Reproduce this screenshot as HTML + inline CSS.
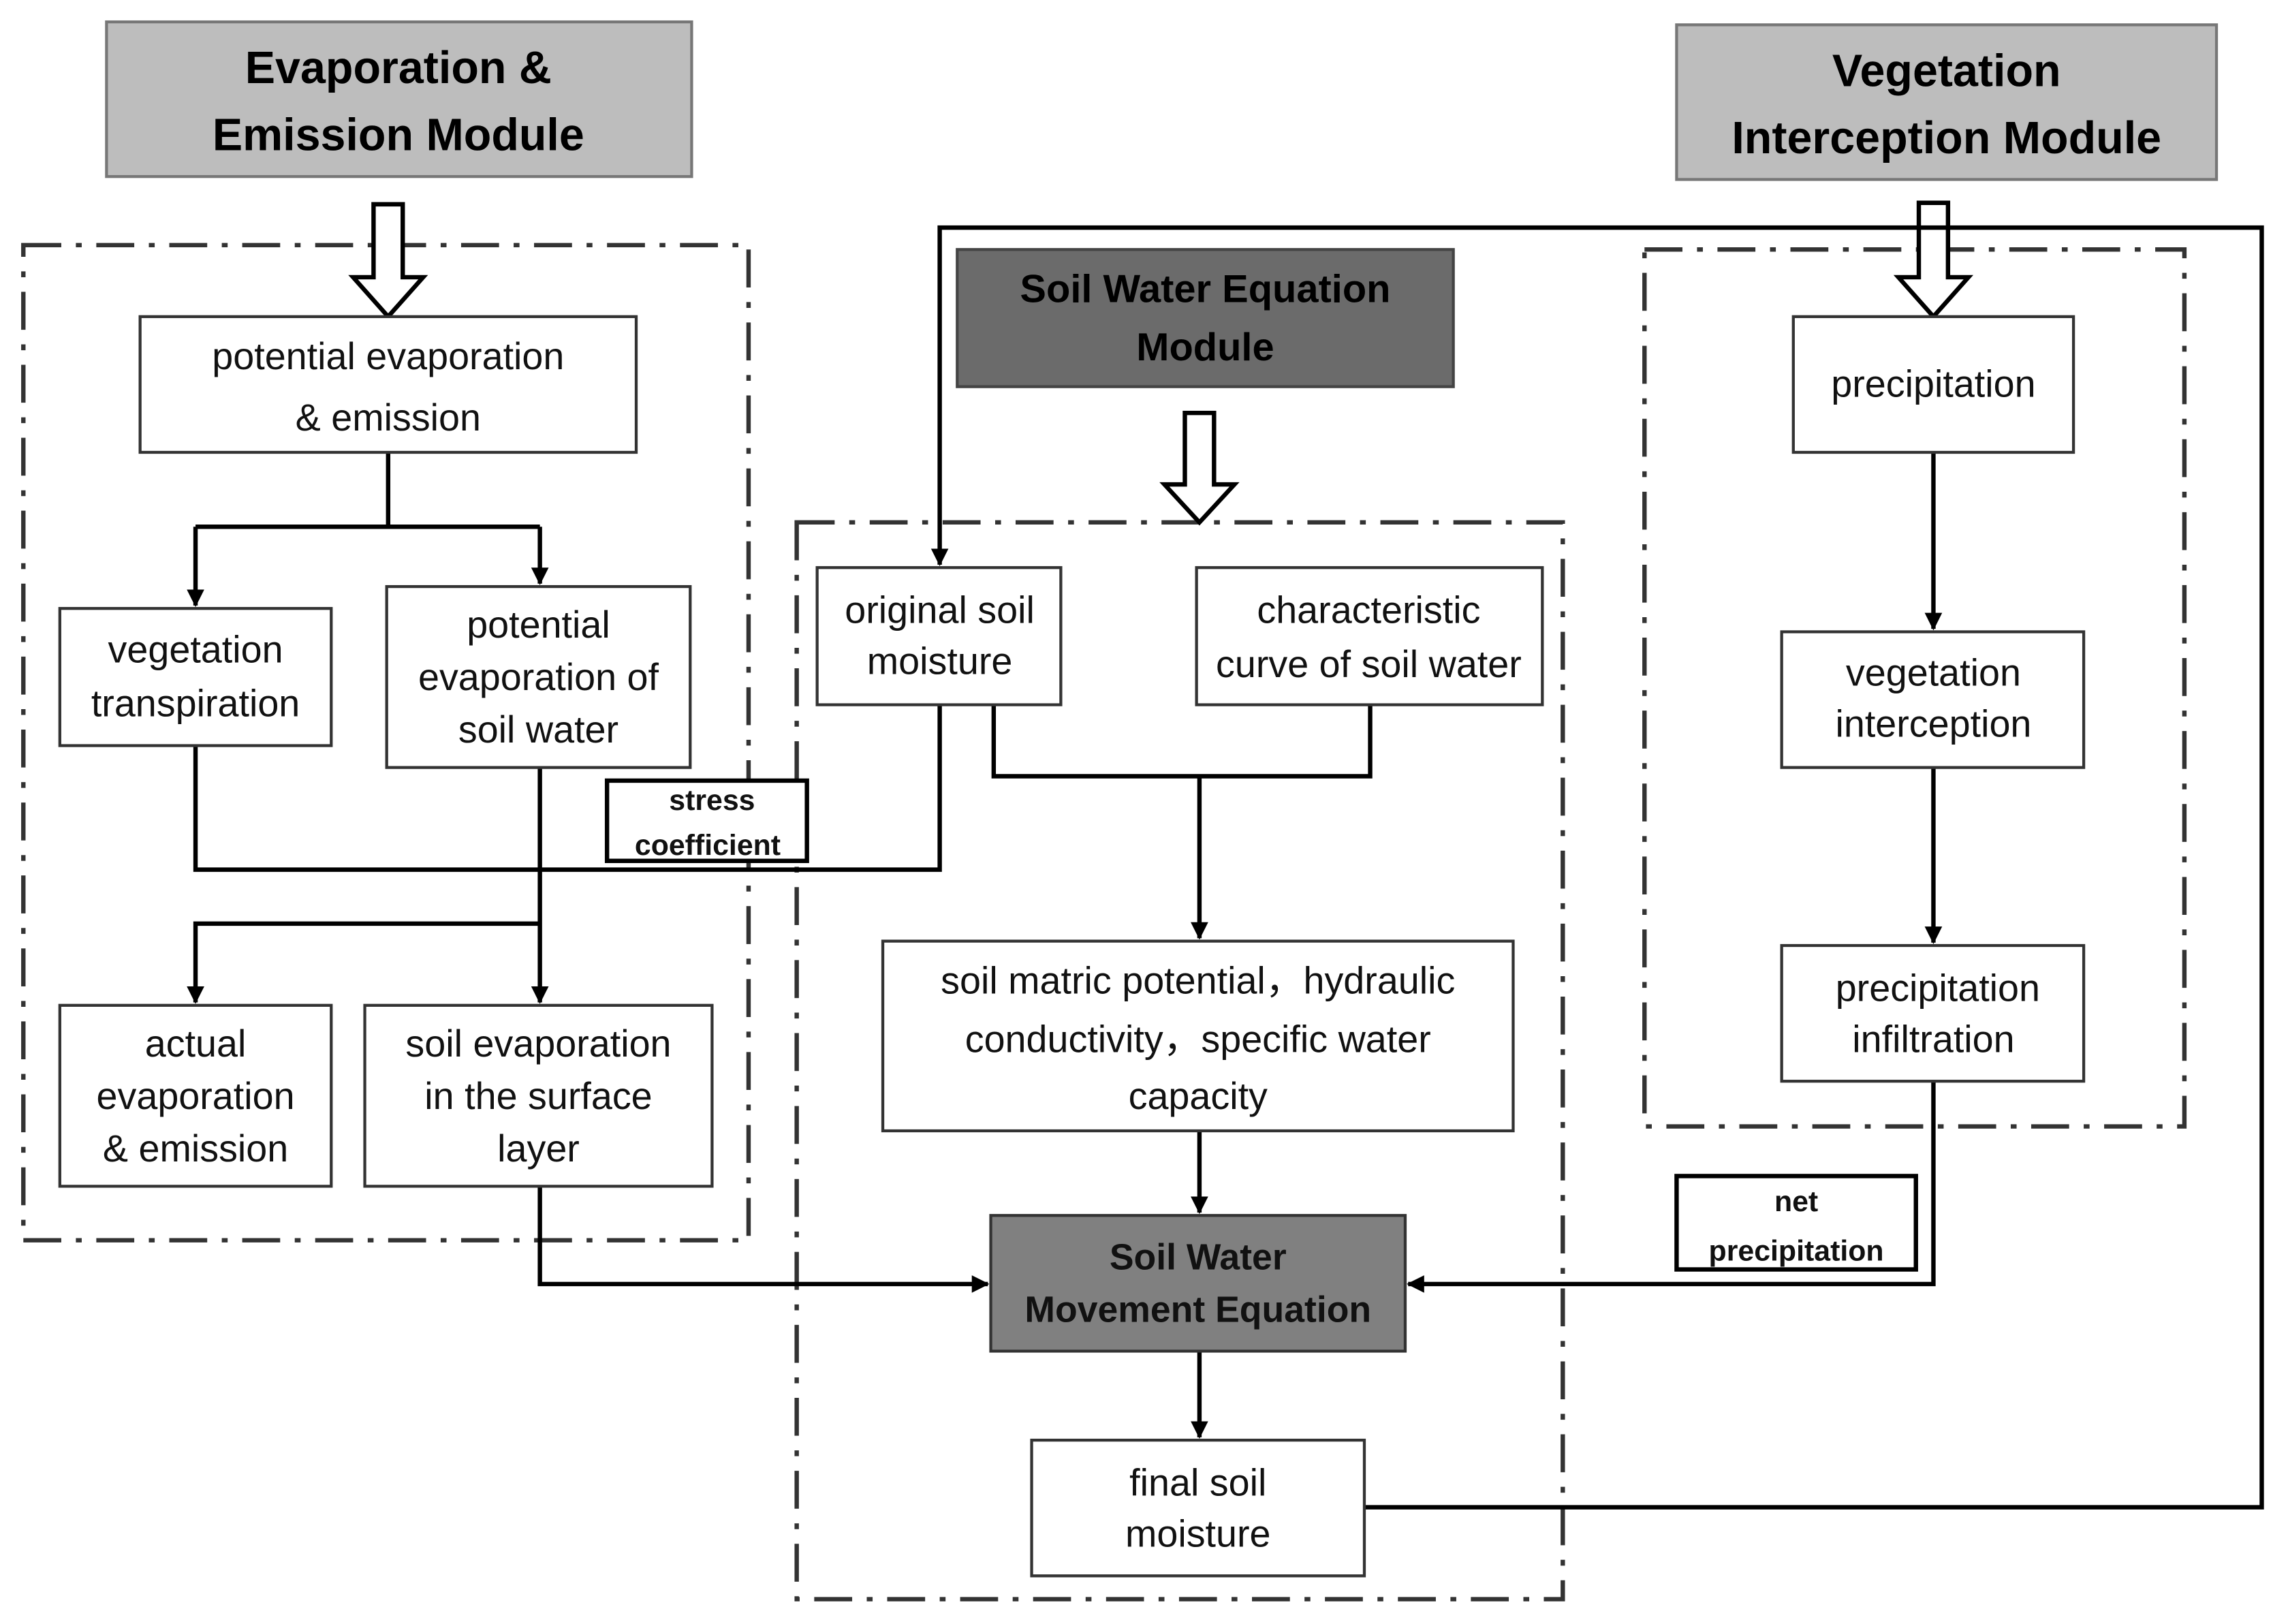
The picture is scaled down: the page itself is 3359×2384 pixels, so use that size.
<!DOCTYPE html>
<html><head><meta charset="utf-8"><style>html,body{margin:0;padding:0;background:#fff}svg{display:block}</style></head><body>
<svg width="3359" height="2384" viewBox="0 0 1568 1113" preserveAspectRatio="none" xmlns="http://www.w3.org/2000/svg" font-family="Liberation Sans, sans-serif">
<defs><marker id="a" markerWidth="12" markerHeight="12" refX="11" refY="6" orient="auto" markerUnits="userSpaceOnUse" viewBox="0 0 12 12"><path d="M0,0 L12,6 L0,12 z" fill="#000"/></marker></defs>
<rect width="1568" height="1113" fill="#fff"/>
<rect x="73" y="15" width="401" height="106" fill="#bdbdbd" stroke="#777" stroke-width="2"/>
<text x="273" y="57" font-size="31" font-weight="bold" text-anchor="middle">Evaporation &amp;</text>
<text x="273" y="103" font-size="31" font-weight="bold" text-anchor="middle">Emission Module</text>
<rect x="1149" y="17" width="370" height="106" fill="#bdbdbd" stroke="#777" stroke-width="2"/>
<text x="1334" y="59" font-size="31" font-weight="bold" text-anchor="middle">Vegetation</text>
<text x="1334" y="105" font-size="31" font-weight="bold" text-anchor="middle">Interception Module</text>
<rect x="656" y="171" width="340" height="94" fill="#6b6b6b" stroke="#444" stroke-width="2"/>
<text x="826" y="207" font-size="27" font-weight="bold" text-anchor="middle">Soil Water Equation</text>
<text x="826" y="247" font-size="27" font-weight="bold" text-anchor="middle">Module</text>
<g fill="none" stroke="#333" stroke-width="3" stroke-dasharray="26,10,4,10">
<rect x="16" y="168" width="497" height="682"/>
<rect x="546" y="358" width="525" height="738"/>
<rect x="1127" y="171" width="370" height="601"/>
</g>
<g fill="#fff" stroke="#000" stroke-width="3">
<path d="M256,140 H276 V190 H290 L266,217 L242,190 H256 Z"/>
<path d="M812,283 H832 V332 H846 L822,358 L798,332 H812 Z"/>
<path d="M1315,139 H1335 V190 H1349 L1325,217 L1301,190 H1315 Z"/>
</g>
<g fill="none" stroke="#000" stroke-width="3">
<path d="M266,310 V361 M134,361 H370"/>
<path d="M134,361 V415" marker-end="url(#a)"/>
<path d="M370,361 V400" marker-end="url(#a)"/>
<path d="M134,511 V596 H644 V483"/>
<path d="M370,526 V687" marker-end="url(#a)"/>
<path d="M370,633 H134 V687" marker-end="url(#a)"/>
<path d="M370,813 V880 H677" marker-end="url(#a)"/>
<path d="M681,483 V532 H939 V483"/>
<path d="M822,532 V643" marker-end="url(#a)"/>
<path d="M822,775 V831" marker-end="url(#a)"/>
<path d="M822,926 V985" marker-end="url(#a)"/>
<path d="M935,1033 H1550 V156 H644 V387" marker-end="url(#a)"/>
<path d="M1325,310 V431" marker-end="url(#a)"/>
<path d="M1325,526 V646" marker-end="url(#a)"/>
<path d="M1325,741 V880 H965" marker-end="url(#a)"/>
</g>
<g fill="#fff" stroke="#333" stroke-width="2">
<rect x="96" y="217" width="340" height="93"/>
<rect x="41" y="417" width="186" height="94"/>
<rect x="265" y="402" width="208" height="124"/>
<rect x="560" y="389" width="167" height="94"/>
<rect x="820" y="389" width="237" height="94"/>
<rect x="605" y="645" width="432" height="130"/>
<rect x="41" y="689" width="186" height="124"/>
<rect x="250" y="689" width="238" height="124"/>
<rect x="707" y="987" width="228" height="93"/>
<rect x="1229" y="217" width="192" height="93"/>
<rect x="1221" y="433" width="207" height="93"/>
<rect x="1221" y="648" width="207" height="93"/>
</g>
<rect x="679" y="833" width="284" height="93" fill="#808080" stroke="#333" stroke-width="2"/>
<rect x="416" y="535" width="137" height="55" fill="#fff" stroke="#000" stroke-width="3"/>
<rect x="1149" y="806" width="164" height="64" fill="#fff" stroke="#000" stroke-width="3"/>
<g font-size="26" text-anchor="middle" fill="#111">
<text x="266" y="253">potential evaporation</text><text x="266" y="295">&amp; emission</text>
<text x="134" y="454">vegetation</text><text x="134" y="491">transpiration</text>
<text x="369" y="437">potential</text><text x="369" y="473">evaporation of</text><text x="369" y="509">soil water</text>
<text x="644" y="427">original soil</text><text x="644" y="462">moisture</text>
<text x="938" y="427">characteristic</text><text x="938" y="464">curve of soil water</text>
<text x="821" y="681">soil matric potential，hydraulic</text><text x="821" y="721">conductivity，specific water</text><text x="821" y="760">capacity</text>
<text x="134" y="724">actual</text><text x="134" y="760">evaporation</text><text x="134" y="796">&amp; emission</text>
<text x="369" y="724">soil evaporation</text><text x="369" y="760">in the surface</text><text x="369" y="796">layer</text>
<text x="821" y="1025">final soil</text><text x="821" y="1060">moisture</text>
<text x="1325" y="272">precipitation</text>
<text x="1325" y="470">vegetation</text><text x="1325" y="505">interception</text>
<text x="1328" y="686">precipitation</text><text x="1325" y="721">infiltration</text>
</g>
<g font-weight="bold" text-anchor="middle" fill="#111">
<text x="821" y="870" font-size="25">Soil Water</text><text x="821" y="906" font-size="25">Movement Equation</text>
<text x="488" y="555" font-size="20">stress</text><text x="485" y="586" font-size="20">coefficient</text>
<text x="1231" y="830" font-size="20">net</text><text x="1231" y="864" font-size="20">precipitation</text>
</g>
</svg>
</body></html>
